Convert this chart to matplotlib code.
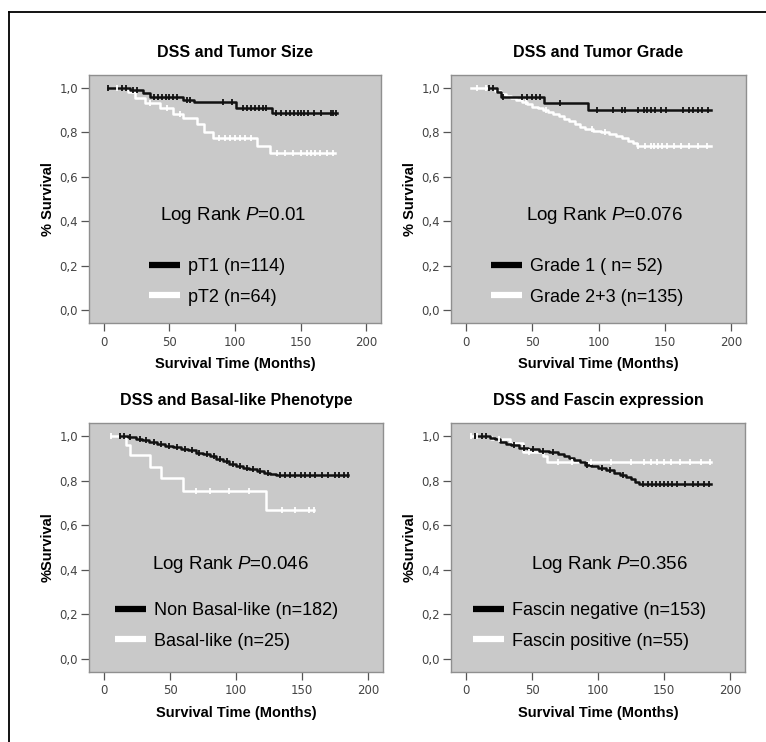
"""Kaplan-Meier disease-specific survival panels (four subgroups)."""

import matplotlib

matplotlib.use("Agg")
import matplotlib.pyplot as plt
import numpy as np
from matplotlib.lines import Line2D

# ---- panel 1: tumour size ----
PT1_START, PT1_END = 3, 178
PT1_EVENTS = [20, 30, 35, 60, 69, 101, 128]
PT1_SURV = [0.99, 0.977, 0.961, 0.946, 0.937, 0.91, 0.887]
PT1_CENSOR = [3, 14, 17, 22, 25, 38, 41, 44, 47, 50, 53, 56, 63, 66, 91, 98, 106, 109,
              112, 115, 118, 121, 124, 131, 135, 139, 142, 145, 148, 150, 153, 156, 160,
              166, 173, 175, 177]
PT2_START, PT2_END = 10, 176
PT2_EVENTS = [18, 24, 31, 43, 53, 60, 71, 76, 83, 117, 127]
PT2_SURV = [0.983, 0.955, 0.932, 0.91, 0.883, 0.865, 0.838, 0.80, 0.773, 0.74, 0.707]
PT2_CENSOR = [10, 35, 48, 58, 88, 92, 96, 100, 104, 108, 112, 132, 138, 144, 150, 155,
              158, 161, 165, 170, 175]

# ---- panel 2: tumour grade ----
G1_START, G1_END = 17, 185
G1_EVENTS = [23, 26, 59, 92]
G1_SURV = [0.98, 0.961, 0.932, 0.90]
G1_CENSOR = [17, 20, 28, 42, 46, 50, 53, 56, 71, 99, 111, 118, 120, 130, 134, 137, 140,
             143, 147, 151, 164, 168, 171, 175, 178, 183]
G23_START, G23_END = 4, 185
G23_EVENTS = [22, 26, 30, 34, 38, 42, 46, 50, 54, 58, 62, 66, 70, 74, 78, 82, 86, 90,
              96, 102, 108, 113, 118, 122, 126, 129]
G23_SURV = [0.985, 0.972, 0.963, 0.955, 0.946, 0.935, 0.926, 0.916, 0.909, 0.901, 0.893,
            0.884, 0.873, 0.862, 0.85, 0.838, 0.826, 0.815, 0.807, 0.80, 0.793, 0.785,
            0.773, 0.762, 0.751, 0.74]
G23_CENSOR = [8, 15, 45, 60, 95, 105, 130, 135, 140, 142, 145, 148, 152, 157, 162, 168,
              175, 182]

# ---- panel 3: basal-like phenotype ----
NB_START, NB_END = 12, 185
NB_EVENTS = [18, 24, 29, 34, 40, 46, 52, 58, 64, 70, 75, 80, 85, 90, 95, 100, 105, 110,
             116, 121, 126, 130]
NB_SURV = [0.994, 0.987, 0.98, 0.972, 0.965, 0.957, 0.951, 0.943, 0.935, 0.925, 0.917,
           0.908, 0.898, 0.886, 0.875, 0.865, 0.857, 0.85, 0.843, 0.836, 0.83, 0.824]
NB_CENSOR = [12, 15, 20, 27, 32, 38, 43, 49, 55, 61, 67, 72, 78, 83, 88, 93, 98, 103, 108,
             113, 118, 124, 133, 137, 141, 145, 149, 152, 156, 160, 165, 170, 175, 178,
             182, 185]
BL_START, BL_END = 5, 159
BL_EVENTS = [17, 20, 35, 43, 60, 123]
BL_SURV = [0.96, 0.915, 0.863, 0.811, 0.751, 0.668]
BL_CENSOR = [5, 70, 80, 95, 110, 135, 145, 155, 159]

# ---- panel 4: fascin expression ----
FN_START, FN_END = 7, 186
FN_EVENTS = [18, 22, 26, 30, 34, 40, 47, 55, 63, 70, 74, 78, 82, 86, 90, 95, 100, 106,
             112, 117, 121, 125, 128, 131]
FN_SURV = [0.993, 0.985, 0.975, 0.966, 0.958, 0.948, 0.94, 0.934, 0.928, 0.921, 0.912,
           0.902, 0.893, 0.882, 0.872, 0.865, 0.857, 0.846, 0.835, 0.825, 0.815, 0.805,
           0.795, 0.784]
FN_CENSOR = [7, 12, 15, 36, 44, 51, 58, 66, 92, 103, 109, 119, 134, 138, 141, 144, 147,
             150, 153, 156, 160, 166, 172, 176, 180, 184]
FP_START, FP_END = 4, 186
FP_EVENTS = [19, 33, 43, 58, 61]
FP_SURV = [0.985, 0.97, 0.93, 0.908, 0.885]
FP_CENSOR = [4, 8, 25, 48, 70, 80, 95, 110, 125, 135, 140, 145, 150, 155, 162, 170, 178,
             185]

TITLES = ["DSS and Tumor Size", "DSS and Tumor Grade",
          "DSS and Basal-like Phenotype", "DSS and Fascin expression"]
YLABELS = ["% Survival", "% Survival", "%Survival", "%Survival"]
PVALUES = ["0.01", "0.076", "0.046", "0.356"]
LABELS = [("pT1 (n=114)", "pT2 (n=64)"),
          ("Grade 1 ( n= 52)", "Grade 2+3 (n=135)"),
          ("Non Basal-like (n=182)", "Basal-like (n=25)"),
          ("Fascin negative (n=153)", "Fascin positive (n=55)")]
X_TICKS = [0, 50, 100, 150, 200]
Y_TICKS = [0.0, 0.2, 0.4, 0.6, 0.8, 1.0]

W, H = 766, 742
BG = "#c9c9c9"
# axes boxes in pixels: left, top, right, bottom
BOXES = [(89, 75, 381, 323), (451, 75, 746, 323),
         (89, 423, 383, 672), (451, 423, 745, 672)]
LEGEND_XY = [(0.205, 0.07), (0.135, 0.07), (0.09, 0.09), (0.075, 0.09)]
PTEXT_XY = [(0.494, 0.435), (0.521, 0.435), (0.48, 0.432), (0.54, 0.432)]

plt.rcParams["font.family"] = ["Liberation Sans", "DejaVu Sans"]
plt.rcParams["mathtext.fontset"] = "custom"
plt.rcParams["mathtext.it"] = "Liberation Sans:italic"
plt.rcParams["mathtext.rm"] = "Liberation Sans"


def km_curve(ax, start, end, events, surv, censor, color):
    xs = [start] + list(events) + [end]
    ys = [1.0] + list(surv) + [surv[-1]]
    ax.step(xs, ys, where="post", color=color, lw=1.8, zorder=3)
    levels = np.array([1.0] + list(surv))
    idx = np.searchsorted(np.array(events), np.array(censor), side="right")
    ax.plot(censor, levels[idx], ls="none", marker="|", ms=5, mew=1.3,
            color=color, zorder=4)


def style_axes(ax, title, ylabel, pval, labels, legend_xy, ptext_xy):
    ax.set_facecolor(BG)
    for spine in ax.spines.values():
        spine.set_color("#8f8f8f")
        spine.set_linewidth(1.0)
    ax.set_xlim(-11.4, 211.4)
    ax.set_ylim(-0.058, 1.058)
    ax.set_xticks(X_TICKS, [str(t) for t in X_TICKS])
    ax.set_yticks(Y_TICKS, [f"{v:.1f}".replace(".", ",") for v in Y_TICKS])
    ax.tick_params(direction="out", length=6, width=0.9, color="#555555", pad=2,
                   labelsize=8.5, labelcolor="#444444")
    ax.tick_params(axis="x", pad=3)
    for lab in ax.get_xticklabels() + ax.get_yticklabels():
        lab.set_family("DejaVu Sans")
    ax.set_title(title, fontsize=11.5, fontweight="bold", pad=13)
    ax.set_xlabel("Survival Time (Months)", fontsize=10.5, fontweight="bold", labelpad=6)
    ax.set_ylabel(ylabel, fontsize=10.5, fontweight="bold", labelpad=3)
    ax.text(*ptext_xy, f"Log Rank $P$=" + pval, transform=ax.transAxes,
            ha="center", va="center", fontsize=13.5)
    handles = [Line2D([], [], color="black", lw=4.5, solid_capstyle="butt"),
               Line2D([], [], color="white", lw=4.5, solid_capstyle="butt")]
    ax.legend(handles, labels, loc="lower left", bbox_to_anchor=legend_xy,
              frameon=False, fontsize=13, handlelength=1.7, handletextpad=0.45,
              labelspacing=0.75, borderpad=0, borderaxespad=0)


def main():
    fig = plt.figure(figsize=(W / 100, H / 100), dpi=100)
    curves = [
        ((PT2_START, PT2_END, PT2_EVENTS, PT2_SURV, PT2_CENSOR),
         (PT1_START, PT1_END, PT1_EVENTS, PT1_SURV, PT1_CENSOR)),
        ((G23_START, G23_END, G23_EVENTS, G23_SURV, G23_CENSOR),
         (G1_START, G1_END, G1_EVENTS, G1_SURV, G1_CENSOR)),
        ((BL_START, BL_END, BL_EVENTS, BL_SURV, BL_CENSOR),
         (NB_START, NB_END, NB_EVENTS, NB_SURV, NB_CENSOR)),
        ((FP_START, FP_END, FP_EVENTS, FP_SURV, FP_CENSOR),
         (FN_START, FN_END, FN_EVENTS, FN_SURV, FN_CENSOR)),
    ]
    for i, (left, top, right, bottom) in enumerate(BOXES):
        ax = fig.add_axes([left / W, 1 - bottom / H, (right - left) / W, (bottom - top) / H])
        white, black = curves[i]
        km_curve(ax, *white, color="white")
        km_curve(ax, *black, color="#111111")
        style_axes(ax, TITLES[i], YLABELS[i], PVALUES[i], LABELS[i],
                   LEGEND_XY[i], PTEXT_XY[i])

    # outer frame of the original figure (cropped on right and bottom)
    fx, fy = 9 / W, 1 - 12 / H
    fig.add_artist(Line2D([fx, fx], [0, fy], transform=fig.transFigure, color="black", lw=1.3))
    fig.add_artist(Line2D([fx, 1], [fy, fy], transform=fig.transFigure, color="black", lw=1.3))

    fig.savefig("out.png", dpi=100)
    plt.close(fig)


if __name__ == "__main__":
    main()
